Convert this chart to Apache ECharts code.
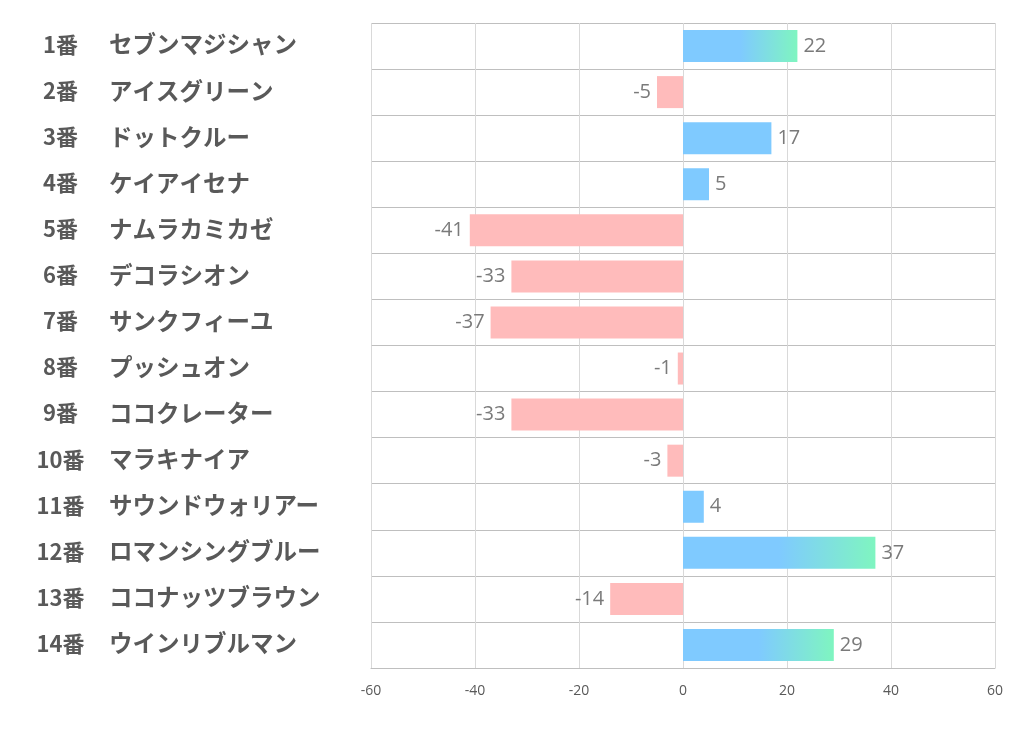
<!DOCTYPE html>
<html><head><meta charset="utf-8">
<script src="https://cdn.jsdelivr.net/npm/echarts@6/dist/echarts.min.js"></script>
<style>html,body{margin:0;padding:0;background:#fff}#c{width:1022px;height:730px}</style>
</head><body><div id="c"></div>
<script>
const numbers = ['1番','2番','3番','4番','5番','6番','7番','8番','9番','10番','11番','12番','13番','14番'];
const names = ['セブンマジシャン','アイスグリーン','ドットクルー','ケイアイセナ','ナムラカミカゼ','デコラシオン','サンクフィーユ','プッシュオン','ココクレーター','マラキナイア','サウンドウォリアー','ロマンシングブルー','ココナッツブラウン','ウインリブルマン'];
const values = [22,-5,17,5,-41,-33,-37,-1,-33,-3,4,37,-14,29];
const xTicks = [-60,-40,-20,0,20,40,60];

const BLUE = '#7fcaff', GREEN = '#7ff5c0', PINK = '#ffbbbb';
const cats = numbers.map((n,i)=>n+'|'+names[i]);
const seriesData = values.map(v=>{
  let color;
  if (v < 0) color = PINK;
  else if (v >= 20) color = new echarts.graphic.LinearGradient(0,0,1,0,[{offset:0,color:BLUE},{offset:0.5,color:BLUE},{offset:1,color:GREEN}]);
  else color = BLUE;
  return {value:v, itemStyle:{color}, label:{position: v<0?'left':'right'}};
});

const chart = echarts.init(document.getElementById('c'));
chart.setOption({
  animation:false,
  grid:{left:371,right:27,top:23,bottom:62,containLabel:false},
  xAxis:{type:'value',min:xTicks[0],max:xTicks[xTicks.length-1],interval:20,
    axisLine:{show:true,onZero:false,lineStyle:{color:'#bfbfbf'}},axisTick:{show:false},
    axisLabel:{color:'#595959',fontSize:14,margin:16,fontFamily:'"Open Sans", sans-serif'},
    splitLine:{show:true,lineStyle:{color:'#d9d9d9'}}},
  yAxis:{type:'category',data:cats,inverse:true,
    axisLine:{show:false},axisTick:{show:false},
    splitLine:{show:true,lineStyle:{color:'#bfbfbf'}},
    axisLabel:{align:'left',margin:359,
      formatter:function(s){const p=s.split('|');return '{a|'+p[0]+'}{b|'+p[1]+'}';},
      rich:{a:{width:97,align:'right',fontSize:22,fontWeight:'bold',color:'#595959',fontFamily:'"Noto Sans CJK JP", sans-serif',padding:[0,0,3,0]},
            b:{padding:[0,0,3,0],fontSize:23.5,fontWeight:'bold',color:'#595959',fontFamily:'"Noto Sans CJK JP", sans-serif'}}}},
  series:[{type:'bar',data:seriesData,barWidth:32,
    label:{show:true,distance:6,fontSize:20,color:'#7a7a7a',fontFamily:'"Open Sans", sans-serif'}}]
});
</script></body></html>
